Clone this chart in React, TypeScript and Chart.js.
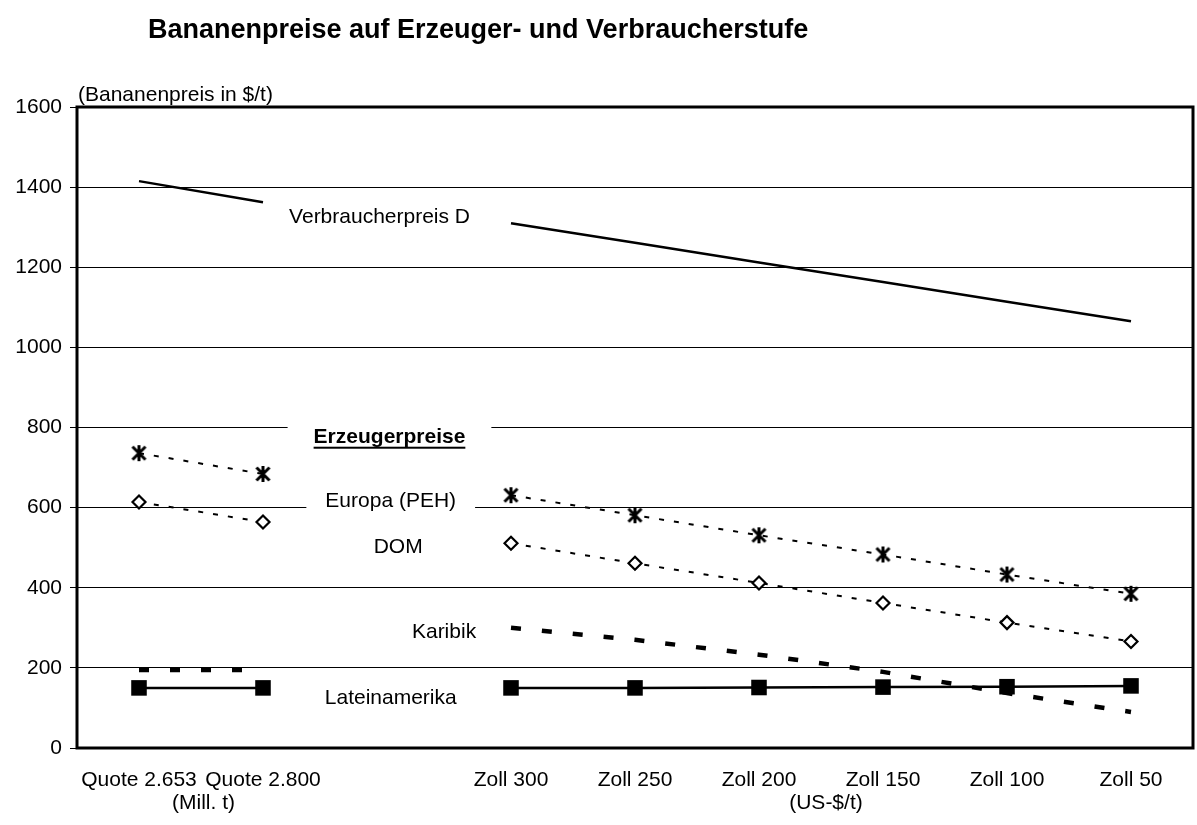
import React, { useEffect, useRef } from "react";
import { Chart, registerables } from "chart.js";

Chart.register(...registerables);

const categories = ["Quote 2.653", "Quote 2.800", "", "Zoll 300", "Zoll 250", "Zoll 200", "Zoll 150", "Zoll 100", "Zoll 50"];
const verbraucherpreisD = [1415, 1362, null, 1310, 1261, 1212, 1163, 1114, 1065];
const europaPEH = [736, 684, null, 631, 581, 531, 483, 433, 385];
const domPreise = [614, 564, null, 511, 461, 412, 362, 313, 266];
const karibik = [195, 195, null, 300, 270, 233, 190, 137, 90];
const lateinamerika = [150, 150, null, 150, 150, 151, 152, 153, 155];
const yTicks = [0, 200, 400, 600, 800, 1000, 1200, 1400, 1600];

const TITLE = "Bananenpreise auf Erzeuger- und Verbraucherstufe";
const Y_TITLE = "(Bananenpreis in $/t)";
const FONT = "'Liberation Sans', Arial, sans-serif";

// series labels placed in data coordinates (category index, value)
const seriesLabels = [
  { text: "Verbraucherpreis D", idx: 1.94, val: 1324, padX: 8, bold: false },
  { text: "Erzeugerpreise", idx: 2.02, val: 777, padX: 26, bold: true },
  { text: "Europa (PEH)", idx: 2.03, val: 617, padX: 19, bold: false },
  { text: "DOM", idx: 2.09, val: 500, padX: 8, bold: false },
  { text: "Karibik", idx: 2.46, val: 290, padX: 8, bold: false },
  { text: "Lateinamerika", idx: 2.03, val: 125, padX: 8, bold: false },
];
const subAxisLabels = [
  { text: "(Mill. t)", idx: 0.52 },
  { text: "(US-$/t)", idx: 5.54 },
];

function makeAsterisk(): HTMLCanvasElement {
  const c = document.createElement("canvas");
  c.width = 17;
  c.height = 18;
  const g = c.getContext("2d")!;
  g.strokeStyle = "#000";
  g.lineWidth = 3;
  g.lineCap = "butt";
  g.beginPath();
  g.moveTo(8.5, 1);
  g.lineTo(8.5, 17);
  g.moveTo(2, 2.5);
  g.lineTo(15, 15.5);
  g.moveTo(15, 2.5);
  g.lineTo(2, 15.5);
  g.stroke();
  return c;
}

const decorPlugin = {
  id: "decor",
  beforeDatasetsDraw(chart: any) {
    const ctx = chart.ctx;
    const xs = chart.scales.x;
    const ys = chart.scales.y;
    ctx.save();
    for (const l of seriesLabels) {
      const x = xs.getPixelForValue(l.idx);
      const y = ys.getPixelForValue(l.val);
      ctx.font = `${l.bold ? "bold " : ""}21px ${FONT}`;
      const w = ctx.measureText(l.text).width;
      ctx.fillStyle = "#fff";
      ctx.fillRect(x - w / 2 - l.padX, y - 15, w + 2 * l.padX, 30);
      ctx.fillStyle = "#000";
      ctx.textAlign = "center";
      ctx.textBaseline = "middle";
      ctx.fillText(l.text, x, y);
      if (l.bold) {
        ctx.fillRect(x - w / 2, y + 10, w, 2);
      }
    }
    ctx.restore();
  },
  afterDraw(chart: any) {
    const ctx = chart.ctx;
    const a = chart.chartArea;
    const xs = chart.scales.x;
    ctx.save();
    // frame
    ctx.strokeStyle = "#000";
    ctx.lineWidth = 3;
    ctx.strokeRect(a.left, a.top, a.right - a.left, a.bottom - a.top);
    // title
    ctx.fillStyle = "#000";
    ctx.font = `bold 27px ${FONT}`;
    ctx.textAlign = "left";
    ctx.textBaseline = "middle";
    ctx.fillText(TITLE, 148, 31);
    // axis title
    ctx.font = `21px ${FONT}`;
    ctx.fillText(Y_TITLE, a.left + 1, a.top - 12);
    // secondary x labels
    ctx.textAlign = "center";
    for (const s of subAxisLabels) {
      ctx.fillText(s.text, xs.getPixelForValue(s.idx), a.bottom + 55);
    }
    ctx.restore();
  },
};

export default function App() {
  const ref = useRef<HTMLCanvasElement | null>(null);
  useEffect(() => {
    if (!ref.current) return;
    const asterisk = makeAsterisk();
    const chart = new Chart(ref.current, {
      type: "line",
      data: {
        labels: categories,
        datasets: [
          {
            label: "Verbraucherpreis D",
            data: verbraucherpreisD,
            borderColor: "#000",
            borderWidth: 2.5,
            pointRadius: 0,
            spanGaps: false,
          },
          {
            label: "Europa (PEH)",
            data: europaPEH,
            borderColor: "#000",
            borderWidth: 2,
            borderDash: [5, 10],
            pointStyle: asterisk as any,
            pointRadius: 8,
            spanGaps: false,
          },
          {
            label: "DOM",
            data: domPreise,
            borderColor: "#000",
            borderWidth: 2,
            borderDash: [5, 10],
            pointStyle: "rectRot",
            pointRadius: 6.5,
            pointBorderWidth: 2.2,
            pointBorderColor: "#000",
            pointBackgroundColor: "#fff",
            spanGaps: false,
          },
          {
            label: "Karibik",
            data: karibik,
            borderColor: "#000",
            borderWidth: 4.5,
            borderDash: [10, 21],
            pointRadius: 0,
            spanGaps: false,
          },
          {
            label: "Lateinamerika",
            data: lateinamerika,
            borderColor: "#000",
            borderWidth: 2.5,
            pointStyle: "rect",
            pointRadius: 11,
            pointBorderWidth: 0,
            pointBackgroundColor: "#000",
            spanGaps: false,
          },
        ],
      },
      options: {
        responsive: false,
        animation: false,
        devicePixelRatio: 1,
        layout: { autoPadding: false, padding: { top: 107, right: 4, left: 0, bottom: 0 } },
        plugins: { legend: { display: false }, tooltip: { enabled: false }, title: { display: false } },
        scales: {
          x: {
            offset: true,
            grid: { display: false, drawTicks: false },
            border: { display: false },
            ticks: { color: "#000", font: { family: FONT, size: 21 }, padding: 20, maxRotation: 0, autoSkip: false },
            afterFit(scale: any) {
              scale.height = 77;
              scale.paddingLeft = 0;
              scale.paddingRight = 0;
            },
          },
          y: {
            min: 0,
            max: 1600,
            afterBuildTicks(scale: any) {
              scale.ticks = yTicks.map((v) => ({ value: v }));
            },
            grid: { color: "#000", lineWidth: 1, tickLength: 7, drawTicks: true },
            border: { display: false },
            ticks: {
              color: "#000",
              font: { family: FONT, size: 21 },
              padding: 8,
              callback: (v: any) => String(v),
            },
            afterFit(scale: any) {
              scale.width = 77;
              scale.paddingTop = 0;
              scale.paddingBottom = 0;
            },
          },
        },
      },
      plugins: [decorPlugin],
    } as any);
    return () => chart.destroy();
  }, []);
  return (
    <div style={{ position: "fixed", left: 0, top: 0, width: 1197, height: 825, background: "#fff" }}>
      <canvas ref={ref} width={1197} height={825} style={{ width: 1197, height: 825, display: "block" }} />
    </div>
  );
}
